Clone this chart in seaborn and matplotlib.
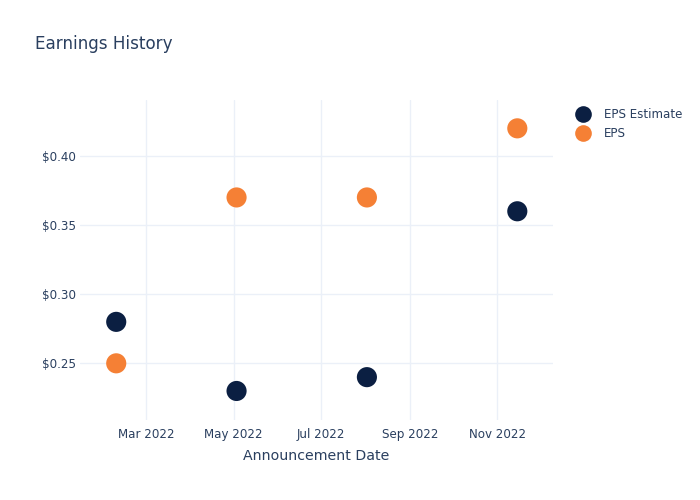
import matplotlib
matplotlib.use("Agg")
import matplotlib.pyplot as plt
import matplotlib.dates as mdates
import matplotlib.ticker as mticker
from matplotlib.lines import Line2D
import seaborn as sns
import pandas as pd

dates = ["2022-02-08", "2022-05-03", "2022-08-02", "2022-11-15"]
eps_estimate = [0.28, 0.23, 0.24, 0.36]
eps_actual = [0.25, 0.37, 0.37, 0.42]
series_names = ["EPS Estimate", "EPS"]
colors = ["#0b1f42", "#f58035"]

df = pd.DataFrame({
    "date": pd.to_datetime(dates * 2),
    "value": eps_estimate + eps_actual,
    "series": [series_names[0]] * len(dates) + [series_names[1]] * len(dates),
})

sns.set_theme(style="white")
plt.rcParams["font.family"] = ["DejaVu Sans"]
text_color = "#2a3f5f"
grid_color = "#ebf0f8"

fig = plt.figure(figsize=(7, 5), dpi=100)
ax = fig.add_axes([80 / 700, 1 - 420 / 500, (553 - 80) / 700, 320 / 500])

sns.scatterplot(data=df, x="date", y="value", hue="series",
                palette=dict(zip(series_names, colors)), s=210,
                edgecolor="none", ax=ax, legend=False, zorder=3)

ax.set_xlim(pd.Timestamp("2022-01-13 17:00"), pd.Timestamp("2022-12-09 22:00"))
ax.set_ylim(0.209, 0.4405)

ax.xaxis.set_major_locator(mdates.MonthLocator(bymonth=[3, 5, 7, 9, 11]))
ax.xaxis.set_major_formatter(mdates.DateFormatter("%b %Y"))
ax.yaxis.set_major_locator(mticker.FixedLocator([0.25, 0.30, 0.35, 0.40]))
ax.yaxis.set_major_formatter(mticker.FuncFormatter(lambda v, p: f"${v:.2f}"))

ax.grid(True, color=grid_color, linewidth=1)
ax.set_axisbelow(True)
for sp in ax.spines.values():
    sp.set_visible(False)
ax.tick_params(axis="both", length=0, labelsize=8.6, labelcolor=text_color)
ax.tick_params(axis="x", pad=6)
ax.tick_params(axis="y", pad=3)

ax.set_xlabel("Announcement Date", fontsize=10.2, color=text_color, labelpad=5.5)
ax.set_ylabel("")

fig.text(35 / 700, 1 - 44 / 500, "Earnings History", fontsize=12.1,
         color=text_color, ha="left", va="center")

handles = [Line2D([], [], marker="o", linestyle="none", markersize=12,
                  markerfacecolor=c, markeredgecolor="none") for c in colors]
leg = fig.legend(handles, series_names, loc="upper left",
                 bbox_to_anchor=(569 / 700, 1 - 103 / 500), frameon=False,
                 fontsize=8.6, labelcolor=text_color, handletextpad=1.0,
                 labelspacing=0.55, borderaxespad=0, handlelength=1.5)

fig.savefig("out.png", dpi=100)
